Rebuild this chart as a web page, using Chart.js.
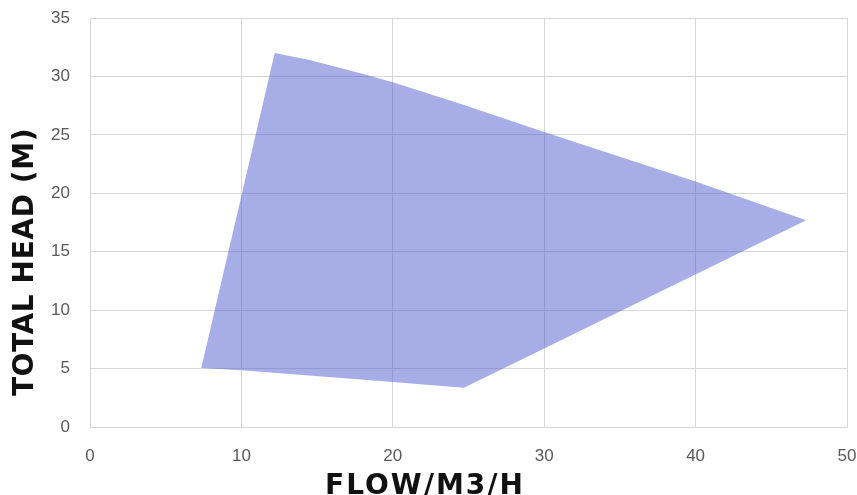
<!DOCTYPE html>
<html>
<head>
<meta charset="utf-8">
<script src="https://cdn.jsdelivr.net/npm/chart.js@4/dist/chart.umd.min.js"></script>
<style>
  html, body { margin: 0; padding: 0; background: #fff; }
  #wrap { width: 857px; height: 495px; position: relative; }
</style>
</head>
<body>
<div id="wrap"><canvas id="chart"></canvas></div>
<script>
// operating envelope, in drawing order (closed shape)
const flow = [7.35, 12.2, 14.5, 17.8, 20, 24.5, 30, 40, 47.3, 24.7, 20, 10];
const head = [5.05, 32.0, 31.4, 30.3, 29.5, 27.65, 25.25, 21.0, 17.7, 3.35, 3.85, 4.85];

const xTicks = [0, 10, 20, 30, 40, 50];
const yTicks = [0, 5, 10, 15, 20, 25, 30, 35];

const xTitle = "FLOW/M3/H";
const yTitle = "TOTAL HEAD (M)";

const gridColor = "#d6d6d6";
const tickColor = "#595959";

const axisTitles = {
  id: "axisTitles",
  afterDraw(chart) {
    const ctx = chart.ctx;
    ctx.save();
    ctx.fillStyle = "#111";
    ctx.font = 'bold 28px "DejaVu Sans"';
    ctx.letterSpacing = "2px";
    ctx.textAlign = "center";
    ctx.textBaseline = "alphabetic";
    ctx.fillText(xTitle, 425, 494);
    ctx.translate(33, 262);
    ctx.rotate(-Math.PI / 2);
    ctx.letterSpacing = "0.6px";
    ctx.fillText(yTitle, 0, 0);
    ctx.restore();
  }
};

new Chart(document.getElementById("chart"), {
  type: "scatter",
  data: {
    datasets: [{
      label: "Envelope",
      data: flow.map((x, i) => ({ x, y: head[i] })),
      showLine: true,
      fill: "shape",
      backgroundColor: "rgba(79, 91, 207, 0.5)",
      borderColor: "rgba(0,0,0,0)",
      borderWidth: 0,
      pointRadius: 0,
      tension: 0
    }]
  },
  options: {
    responsive: true,
    maintainAspectRatio: false,
    animation: false,
    layout: { padding: { top: 18, right: 10, left: 0, bottom: 0 } },
    plugins: {
      legend: { display: false },
      tooltip: { enabled: false }
    },
    scales: {
      x: {
        type: "linear",
        min: xTicks[0],
        max: xTicks[xTicks.length - 1],
        afterBuildTicks: (scale) => { scale.ticks = xTicks.map((v) => ({ value: v })); },
        afterFit: (scale) => {
          scale.height = 68;
          scale.paddingLeft = 0;
          scale.paddingRight = 0;
        },
        grid: { color: gridColor, lineWidth: 1, drawTicks: false },
        border: { color: gridColor },
        ticks: { color: tickColor, padding: 19, font: { family: '"Liberation Sans"', size: 17 } }
      },
      y: {
        type: "linear",
        min: yTicks[0],
        max: yTicks[yTicks.length - 1],
        afterBuildTicks: (scale) => { scale.ticks = yTicks.map((v) => ({ value: v })); },
        afterFit: (scale) => {
          scale.width = 90;
          scale.paddingTop = 0;
          scale.paddingBottom = 0;
        },
        grid: { color: gridColor, lineWidth: 1, drawTicks: false },
        border: { color: gridColor },
        ticks: { color: tickColor, padding: 20, font: { family: '"Liberation Sans"', size: 17 } }
      }
    }
  },
  plugins: [axisTitles]
});
</script>
</body>
</html>
